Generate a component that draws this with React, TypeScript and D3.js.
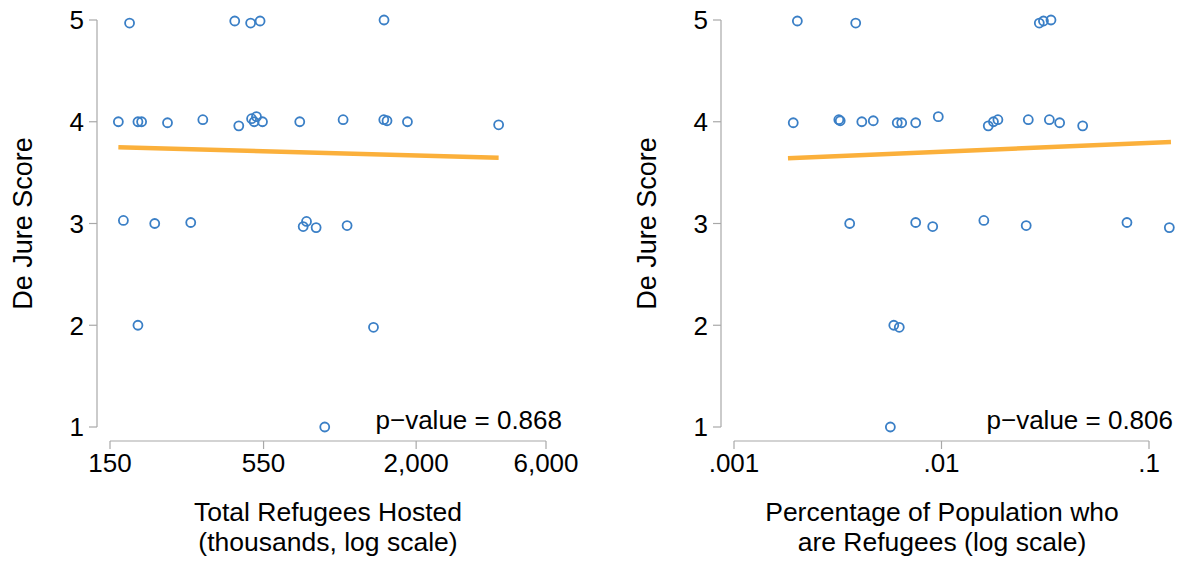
import React from "react";
import * as d3 from "d3";

// ---------- data ----------
const yTicks = [1, 2, 3, 4, 5];

const leftTicks = [150, 550, 2000, 6000];
const leftTickLabels = ["150", "550", "2,000", "6,000"];
const rightTicks = [0.001, 0.01, 0.1];
const rightTickLabels = [".001", ".01", ".1"];

// Total refugees hosted (thousands) vs de jure score
const leftX = [
  177, 431, 493, 534, 1524,
  161, 190, 196, 244, 329, 446, 497, 518, 508, 545, 747, 1078, 1521, 1563, 1858, 4019,
  168, 219, 297, 769, 791, 858, 1115,
  190, 1394,
  923,
];
const leftY = [
  4.97, 4.99, 4.97, 4.99, 5.0,
  4.0, 4.0, 4.0, 3.99, 4.02, 3.96, 4.03, 4.05, 4.0, 4.0, 4.0, 4.02, 4.02, 4.01, 4.0, 3.97,
  3.03, 3.0, 3.01, 2.97, 3.02, 2.96, 2.98,
  2.0, 1.98,
  1.0,
];

// Percentage of population who are refugees vs de jure score
const rightX = [
  0.00202, 0.00386, 0.0296, 0.031, 0.0337,
  0.00193, 0.0032, 0.00325, 0.00413, 0.00469, 0.00612, 0.00643, 0.00751, 0.00965, 0.0168, 0.0178, 0.0187, 0.0262, 0.0331, 0.0371, 0.0479,
  0.00361, 0.00751, 0.00907, 0.016, 0.0256, 0.0783, 0.1253,
  0.00589, 0.00626,
  0.00567,
];
const rightY = [
  4.99, 4.97, 4.97, 4.99, 5.0,
  3.99, 4.02, 4.01, 4.0, 4.01, 3.99, 3.99, 3.99, 4.05, 3.96, 4.0, 4.02, 4.02, 4.02, 3.99, 3.96,
  3.0, 3.01, 2.97, 3.03, 2.98, 3.01, 2.96,
  2.0, 1.98,
  1.0,
];

// fitted lines (endpoints)
const leftFitX = [161, 4019];
const leftFitY = [3.749, 3.647];
const rightFitX = [0.00182, 0.1276];
const rightFitY = [3.641, 3.801];

const leftP = "p\u2212value = 0.868";
const rightP = "p\u2212value = 0.806";

// ---------- styles ----------
const FONT = "'Liberation Sans', Arial, Helvetica, sans-serif";
const AXIS = "#a8a8a8";
const DOT = "#3a7fc6";
const FIT = "#fbb03b";

type PanelProps = {
  xs: number[];
  ys: number[];
  fitX: number[];
  fitY: number[];
  ticks: number[];
  tickLabels: string[];
  domain: [number, number];
  range: [number, number];
  yAxisX: number;
  pText: string;
  pRight: number;
  titleLines: string[];
  titleX: number;
};

function Panel(p: PanelProps) {
  const y = d3.scaleLinear().domain([1, 5]).range([427, 20]);
  const x = d3.scaleLog().domain(p.domain).range(p.range);
  const line = d3
    .line<number>()
    .x((_, i) => x(p.fitX[i]))
    .y((d) => y(d));
  const axisY = 441;
  return (
    <g fontFamily={FONT} fill="#000">
      {/* y axis */}
      <line x1={p.yAxisX} x2={p.yAxisX} y1={y(5)} y2={y(1)} stroke={AXIS} strokeWidth={1.2} />
      {yTicks.map((t) => (
        <g key={t}>
          <line x1={p.yAxisX - 8} x2={p.yAxisX} y1={y(t)} y2={y(t)} stroke={AXIS} strokeWidth={1.2} />
          <text x={p.yAxisX - 13} y={y(t)} dy="0.36em" textAnchor="end" fontSize={26}>
            {t}
          </text>
        </g>
      ))}
      <text
        transform={`translate(${p.yAxisX - 65},${(y(5) + y(1)) / 2}) rotate(-90)`}
        textAnchor="middle"
        fontSize={27}
      >
        De Jure Score
      </text>
      {/* x axis */}
      <line x1={p.range[0]} x2={p.range[1]} y1={axisY} y2={axisY} stroke={AXIS} strokeWidth={1.2} />
      {p.ticks.map((t, i) => (
        <g key={t}>
          <line x1={x(t)} x2={x(t)} y1={axisY} y2={axisY + 8} stroke={AXIS} strokeWidth={1.2} />
          <text x={x(t)} y={472} textAnchor="middle" fontSize={26}>
            {p.tickLabels[i]}
          </text>
        </g>
      ))}
      {p.titleLines.map((s, i) => (
        <text key={i} x={p.titleX} y={521 + i * 30} textAnchor="middle" fontSize={26.5}>
          {s}
        </text>
      ))}
      {/* points */}
      {p.xs.map((v, i) => (
        <circle key={i} cx={x(v)} cy={y(p.ys[i])} r={4.5} fill="none" stroke={DOT} strokeWidth={1.8} />
      ))}
      {/* fit */}
      <path d={line(p.fitY) || ""} fill="none" stroke={FIT} strokeWidth={4.5} />
      <text x={p.pRight} y={429} textAnchor="end" fontSize={26}>
        {p.pText}
      </text>
    </g>
  );
}

export default function App() {
  return (
    <>
      <style>{`body{margin:0;}`}</style>
      <svg width={1178} height={562} style={{ display: "block", background: "#fff" }}>
        <Panel
          xs={leftX}
          ys={leftY}
          fitX={leftFitX}
          fitY={leftFitY}
          ticks={leftTicks}
          tickLabels={leftTickLabels}
          domain={[150, 6000]}
          range={[110, 546]}
          yAxisX={97}
          pText={leftP}
          pRight={562}
          titleLines={["Total Refugees Hosted", "(thousands, log scale)"]}
          titleX={328}
        />
        <Panel
          xs={rightX}
          ys={rightY}
          fitX={rightFitX}
          fitY={rightFitY}
          ticks={rightTicks}
          tickLabels={rightTickLabels}
          domain={[0.001, 0.1]}
          range={[734, 1149]}
          yAxisX={721}
          pText={rightP}
          pRight={1173}
          titleLines={["Percentage of Population who", "are Refugees (log scale)"]}
          titleX={942}
        />
      </svg>
    </>
  );
}
